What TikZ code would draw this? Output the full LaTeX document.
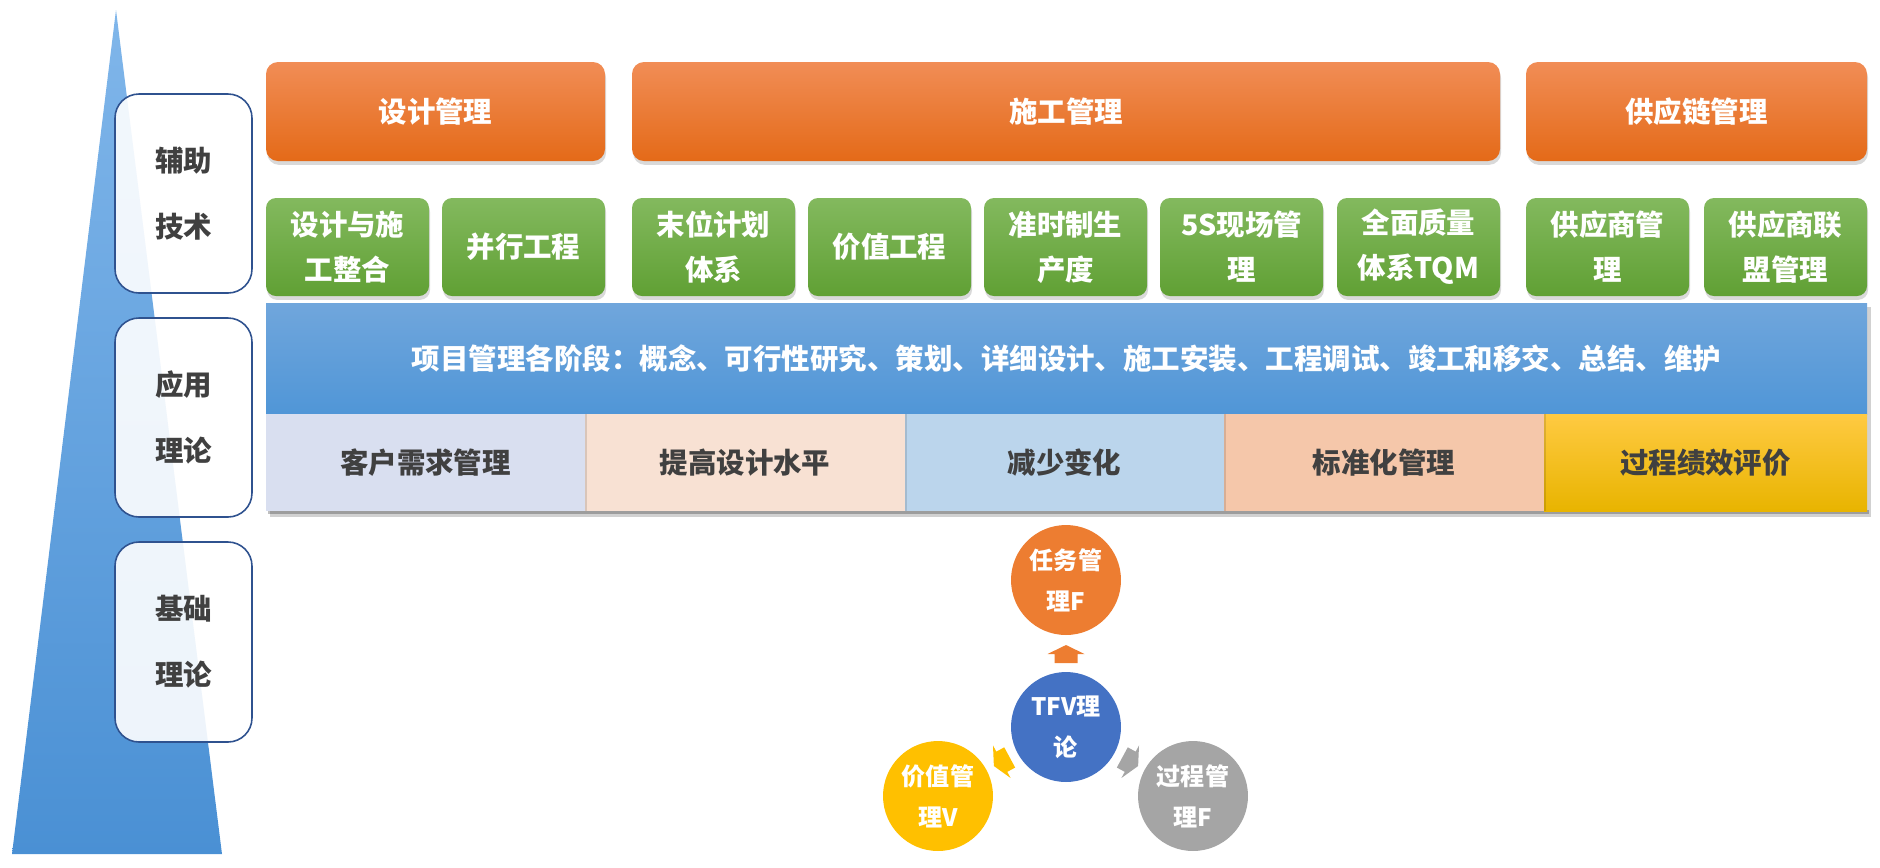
\documentclass[tikz,border=0pt]{standalone}
\usepackage{fontspec}
\setmainfont{Noto Sans CJK SC}
\usetikzlibrary{shadows,calc}
\definecolor{orTop}{RGB}{241,141,86}
\definecolor{orMid}{RGB}{244,124,40}
\definecolor{orBot}{RGB}{228,106,24}
\definecolor{grTop}{RGB}{131,185,94}
\definecolor{grMid}{RGB}{112,173,68}
\definecolor{grBot}{RGB}{96,160,52}
\definecolor{blTop}{RGB}{112,166,220}
\definecolor{blBot}{RGB}{80,150,215}
\definecolor{cellA}{RGB}{217,223,240}
\definecolor{cellB}{RGB}{248,225,211}
\definecolor{cellC}{RGB}{187,213,236}
\definecolor{cellD}{RGB}{245,199,170}
\definecolor{goTop}{RGB}{255,202,66}
\definecolor{goMid}{RGB}{255,192,0}
\definecolor{goBot}{RGB}{232,180,0}
\definecolor{txtGray}{RGB}{64,64,64}
\definecolor{leftBorder}{RGB}{47,82,143}
\definecolor{triTop}{RGB}{128,182,234}
\definecolor{triBot}{RGB}{74,144,212}
\definecolor{cOrange}{RGB}{237,125,49}
\definecolor{cBlue}{RGB}{68,114,196}
\definecolor{cYellow}{RGB}{255,192,0}
\definecolor{cGray}{RGB}{165,165,165}
\newcommand{\mainfs}{\bfseries\fontsize{16.2pt}{25.6pt}\selectfont}
\newcommand{\boxat}[7]{\node[#6, minimum width={(#4-#2)*0.02cm}, minimum height={(#5-#3)*0.02cm}] (#1) at ({(#2+#4)/2},{(#3+#5)/2}) {#7};}
\tikzset{
  base/.style={inner sep=0pt, outer sep=0pt, align=center},
  orangebox/.style={base, rounded corners=0.24cm, top color=orTop, middle color=orMid, bottom color=orBot, text=white, font=\mainfs,
    drop shadow={shadow xshift=0.6pt, shadow yshift=-2.2pt, opacity=0.3}},
  greenbox/.style={base, rounded corners=0.2cm, top color=grTop, middle color=grMid, bottom color=grBot, text=white, font=\mainfs,
    drop shadow={shadow xshift=0.6pt, shadow yshift=-2.2pt, opacity=0.3}},
  bluebar/.style={base, top color=blTop, bottom color=blBot, text=white, font=\mainfs},
  cell/.style={base, text=txtGray, font=\mainfs},
  leftbox/.style={base, rounded corners=0.48cm, draw=leftBorder, line width=0.9pt, fill=white, fill opacity=0.9, text opacity=1, text=txtGray,
    font=\bfseries\fontsize{16.2pt}{37.6pt}\selectfont},
  disc/.style={base, circle, minimum size=2.2cm, text=white, font=\bfseries\fontsize{13.7pt}{23.3pt}\selectfont},
}
\begin{document}
\begin{tikzpicture}[x=0.02cm,y=-0.02cm]
\useasboundingbox (0,0) rectangle (1880,867);
% triangle
\shade[top color=triTop, bottom color=triBot] (116,10) -- (222,854) -- (12,854) -- cycle;
% left boxes
\boxat{lA}{115}{94}{252}{293}{leftbox}{辅助\\技术}
\boxat{lB}{115}{318}{252}{517}{leftbox}{应用\\理论}
\boxat{lC}{115}{542}{252}{742}{leftbox}{基础\\理论}
% orange boxes
\boxat{oA}{266}{62}{605}{161}{orangebox}{设计管理}
\boxat{oB}{632}{62}{1500}{161}{orangebox}{施工管理}
\boxat{oC}{1526}{62}{1867}{161}{orangebox}{供应链管理}
% green boxes
\boxat{g1}{266}{198}{429}{296}{greenbox}{设计与施\\工整合}
\boxat{g2}{442}{198}{605}{296}{greenbox}{并行工程}
\boxat{g3}{632}{198}{795}{296}{greenbox}{末位计划\\体系}
\boxat{g4}{808}{198}{971}{296}{greenbox}{价值工程}
\boxat{g5}{984}{198}{1147}{296}{greenbox}{准时制生\\产度}
\boxat{g6}{1160}{198}{1323}{296}{greenbox}{5S现场管\\理}
\boxat{g7}{1337}{198}{1500}{296}{greenbox}{全面质量\\体系TQM}
\boxat{g8}{1526}{198}{1689}{296}{greenbox}{供应商管\\理}
\boxat{g9}{1704}{198}{1867}{296}{greenbox}{供应商联\\盟管理}
% shadow of band block
\fill[black, opacity=0.18] (270,307) rectangle (1871,517);
\fill[black, opacity=0.25] (268,510) rectangle (1869,514);
% blue band
\boxat{band}{266}{303}{1867}{414}{bluebar}{项目管理各阶段：概念、可行性研究、策划、详细设计、施工安装、工程调试、竣工和移交、总结、维护}
% cells
\boxat{c1}{266}{414}{585}{511}{cell, fill=cellA}{客户需求管理}
\boxat{c2}{585}{414}{905}{511}{cell, fill=cellB}{提高设计水平}
\boxat{c3}{905}{414}{1224}{511}{cell, fill=cellC}{减少变化}
\boxat{c4}{1224}{414}{1544}{511}{cell, fill=cellD}{标准化管理}
\boxat{c5}{1544}{414}{1867}{511}{cell, top color=goTop, middle color=goMid, bottom color=goBot}{过程绩效评价}
\foreach \xx in {585,905,1224,1544}{\fill[black, opacity=0.12] (\xx,414) rectangle (\xx+2,511);}
% circles
\node[disc, fill=cOrange] (task) at (1066,580) {任务管\\理F};
\node[disc, fill=cBlue] (tfv) at (1066,727) {TFV理\\论};
\node[disc, fill=cYellow] (val) at (938,796) {价值管\\理V};
\node[disc, fill=cGray] (proc) at (1193,796) {过程管\\理F};
% arrows from centre outward
\foreach \ang/\col in {0/cOrange, 118.4/cYellow, -118.4/cGray}{
  \begin{scope}[shift={(tfv.center)}, rotate=\ang]
    \fill[\col] (-11.5,-64) -- (-11.5,-73) -- (-18.5,-73) -- (0,-82) -- (18.5,-73) -- (11.5,-73) -- (11.5,-64) -- cycle;
  \end{scope}
}
\end{tikzpicture}
\end{document}
